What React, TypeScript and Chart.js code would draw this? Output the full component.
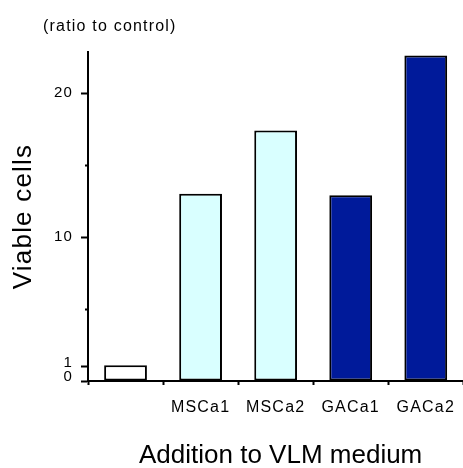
import { useEffect, useRef } from 'react';
import { Chart, registerables } from 'chart.js';

Chart.register(...registerables);

const categories = ['', 'MSCa1', 'MSCa2', 'GACa1', 'GACa2'];
const viableCells = [1.1, 13.0, 17.4, 12.9, 22.6];
const yTickValues = [0, 1, 5, 10, 15, 20];
const yTickLabels = ['0', '1', '', '10', '', '20'];
const yMax = 22.85;
const yTitle = 'Viable cells';
const xTitle = 'Addition to VLM medium';
const unitNote = '(ratio to control)';

const FONT = "'Liberation Sans', Arial, Helvetica, sans-serif";
const barFills = ['#FFFFFF', '#D9FFFF', '#D9FFFF', '#001A9A', '#001A9A'];

const CANVAS_W = 465;
const CANVAS_H = 468;

export default function App() {
  const ref = useRef<HTMLCanvasElement>(null);

  useEffect(() => {
    const canvas = ref.current;
    if (!canvas) return;

    const textPlugin = {
      id: 'textTweaks',
      afterLayout(chart: any) {
        const xs = chart.scales.x;
        if (xs && !xs.__wrapped) {
          const orig = xs.drawTitle;
          xs.drawTitle = function (this: any) {
            const c = this.ctx;
            const prev = c.letterSpacing;
            c.save();
            c.letterSpacing = '0px';
            c.translate(5, 0);
            orig.call(this);
            c.restore();
            c.letterSpacing = prev;
          };
          xs.__wrapped = true;
        }
      },
      beforeDraw(chart: any) {
        chart.ctx.letterSpacing = '1.2px';
      },
      afterDraw(chart: any) {
        const c = chart.ctx;
        c.save();
        c.letterSpacing = '1.2px';
        c.font = `16px ${FONT}`;
        c.fillStyle = '#000';
        c.textAlign = 'left';
        c.textBaseline = 'alphabetic';
        c.fillText(unitNote, 43, 31);
        c.restore();
      },
    };

    const isMinor = (v: number) => yTickLabels[yTickValues.indexOf(v)] === '';
    const isLow = (v: number) => v === 0 || v === 1;

    const chart = new Chart(canvas, {
      type: 'bar',
      data: {
        labels: categories,
        datasets: [
          {
            data: viableCells,
            backgroundColor: barFills,
            borderColor: '#000',
            borderWidth: 2,
            borderSkipped: false,
            barPercentage: 0.57,
            categoryPercentage: 1,
          },
        ],
      },
      options: {
        responsive: false,
        animation: false,
        devicePixelRatio: 1,
        layout: { autoPadding: false, padding: { top: 52, left: 0, right: 0, bottom: 0 } },
        plugins: {
          legend: { display: false },
          tooltip: { enabled: false },
          title: { display: false },
        },
        scales: {
          x: {
            grid: {
              drawOnChartArea: false,
              offset: true,
              tickLength: 4,
              tickWidth: 2,
              tickColor: '#000',
            },
            border: { color: '#000', width: 2 },
            ticks: {
              color: '#000',
              font: { family: FONT, size: 16 },
              padding: 13,
              maxRotation: 0,
              autoSkip: false,
            },
            title: {
              display: true,
              text: xTitle,
              color: '#000',
              font: { family: FONT, size: 26, lineHeight: 0.9 },
              padding: 0,
            },
            afterFit(s: any) {
              s.height = 87;
            },
          },
          y: {
            min: 0,
            max: yMax,
            afterBuildTicks(s: any) {
              s.ticks = yTickValues.map((v) => ({ value: v }));
            },
            grid: {
              drawOnChartArea: false,
              tickLength: 7,
              tickWidth: 2,
              tickColor: '#000',
              tickBorderDash: (ctx: any) =>
                ctx.tick && isMinor(ctx.tick.value) ? [0, 4, 3, 100] : [],
            },
            border: { color: '#000', width: 2 },
            ticks: {
              color: '#000',
              padding: 8,
              autoSkip: false,
              font: (ctx: any) =>
                ctx.tick && isLow(ctx.tick.value)
                  ? { family: FONT, size: 15, lineHeight: '8px' }
                  : { family: FONT, size: 15 },
              callback: (value: any) => {
                const i = yTickValues.indexOf(Number(value));
                const lab = i >= 0 ? yTickLabels[i] : '';
                return isLow(Number(value)) ? [lab, ''] : lab;
              },
            },
            title: {
              display: true,
              text: yTitle,
              color: '#000',
              font: { family: FONT, size: 26 },
              padding: { top: 8, bottom: 0 },
            },
            afterFit(s: any) {
              s.width = 88;
            },
          },
        },
      },
      plugins: [textPlugin],
    } as any);

    return () => {
      chart.destroy();
    };
  }, []);

  return (
    <div style={{ position: 'absolute', left: 0, top: 0, width: 463, height: 468, overflow: 'hidden' }}>
      <canvas
        ref={ref}
        width={CANVAS_W}
        height={CANVAS_H}
        style={{ width: CANVAS_W, height: CANVAS_H, display: 'block' }}
      />
    </div>
  );
}
